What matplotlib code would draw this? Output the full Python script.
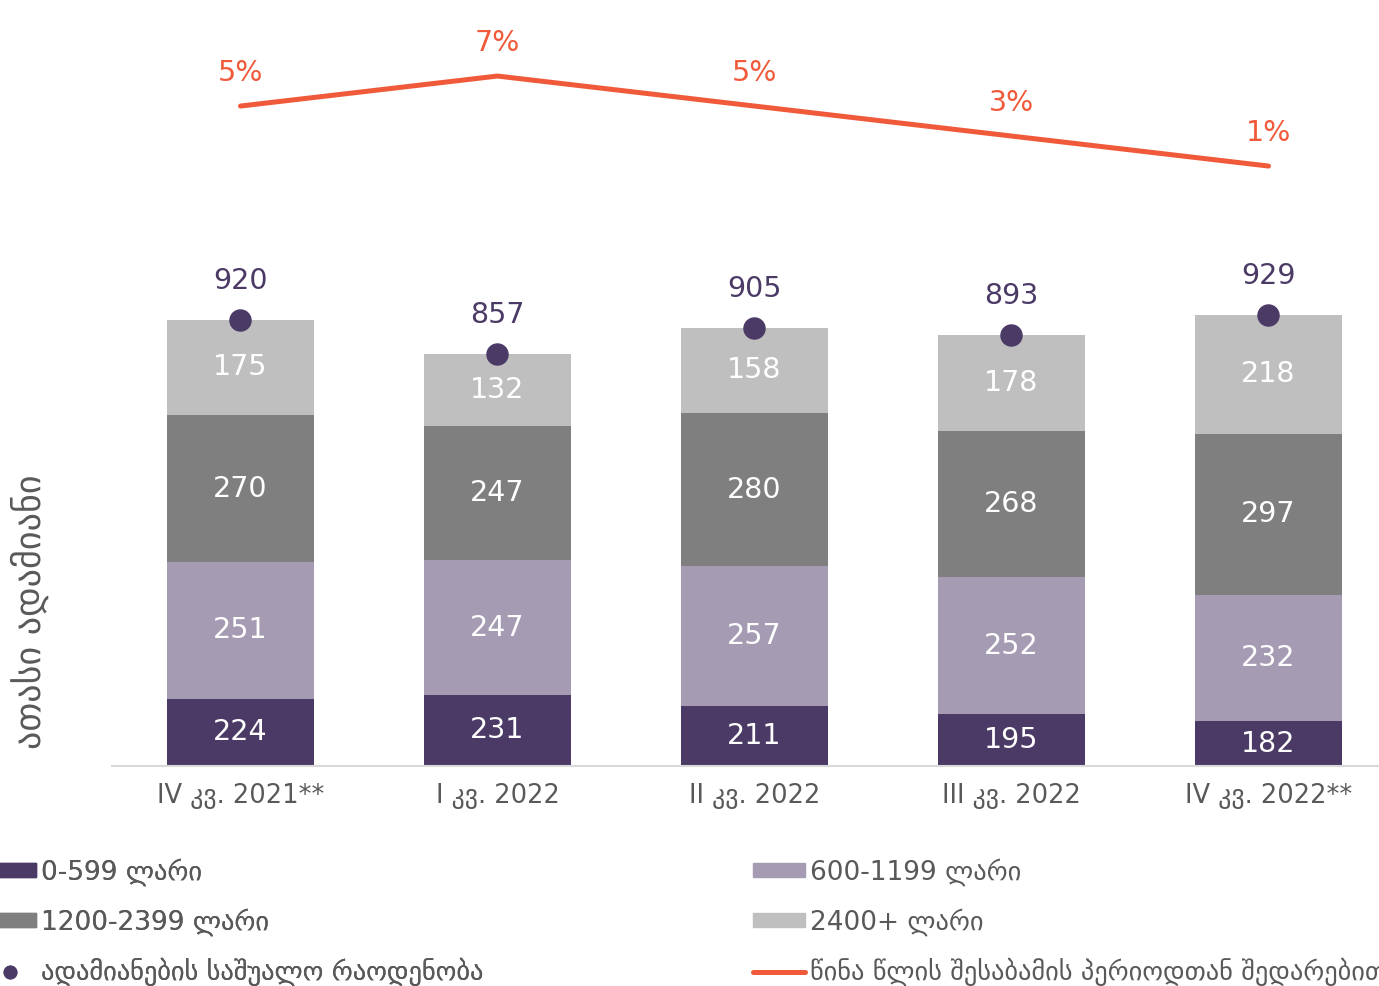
import numpy as np
import matplotlib
matplotlib.use('Agg')
import matplotlib.pyplot as plt
import matplotlib.patches as mpatches
from matplotlib.lines import Line2D

# data
quarters = ['IV კვ. 2021**', 'I კვ. 2022', 'II კვ. 2022', 'III კვ. 2022', 'IV კვ. 2022**']
band_0_599 = [224, 231, 211, 195, 182]
band_600_1199 = [251, 247, 257, 252, 232]
band_1200_2399 = [270, 247, 280, 268, 297]
band_2400 = [175, 132, 158, 178, 218]
totals = [920, 857, 905, 893, 929]
yoy_pct = [5, 7, 5, 3, 1]

band_labels = ['0-599 ლარი', '600-1199 ლარი', '1200-2399 ლარი', '2400+ ლარი']
dot_label = 'ადამიანების საშუალო რაოდენობა'
line_label = 'წინა წლის შესაბამის პერიოდთან შედარებით'

colors = ['#4B3A66', '#A59BB3', '#7F7F7F', '#BFBFBF']
dot_color = '#4B3A66'
line_color = '#F05A3A'
text_grey = '#595959'

y_min = 100  # value axis does not start at zero

W, H = 1379, 986
fig = plt.figure(figsize=(W / 100, H / 100), dpi=100)
ax = fig.add_axes([112 / W, (H - 766) / H, 1 - 112 / W, 766 / H])

x = np.arange(len(quarters))
bands = [band_0_599, band_600_1199, band_1200_2399, band_2400]
bottom = np.zeros(len(quarters))
for vals, c in zip(bands, colors):
    ax.bar(x, vals, width=0.57, bottom=bottom, color=c)
    for xi, b, v in zip(x, bottom, vals):
        lo = max(b, y_min)
        ax.text(xi, (lo + b + v) / 2, str(v), ha='center', va='center', color='white',
                fontsize=20.5)
    bottom += np.array(vals)

ax.scatter(x, totals, s=230, color=dot_color, zorder=3)
for xi, t in zip(x, totals):
    ax.annotate(str(t), (xi, t), xytext=(0, 28), textcoords='offset points',
                ha='center', va='center', color=dot_color, fontsize=20.5)

ax.set_xlim(-0.5, 4.43)
ax.set_ylim(y_min, 1508)
ax.set_xticks(x)
ax.set_xticklabels(quarters, fontsize=18.5, color=text_grey)
ax.tick_params(axis='x', length=0, pad=12.5)
ax.set_yticks([])
for s in ['top', 'left', 'right']:
    ax.spines[s].set_visible(False)
ax.spines['bottom'].set_color('#D9D9D9')
ax.spines['bottom'].set_linewidth(1.5)

ax2 = ax.twinx()
ax2.plot(x, yoy_pct, color=line_color, lw=3.6, solid_capstyle='round')
for xi, p in zip(x, yoy_pct):
    ax2.annotate(f'{p}%', (xi, p), xytext=(0, 24), textcoords='offset points',
                 ha='center', va='center', color=line_color, fontsize=20.5)
ax2.set_ylim(-39, 12.07)
ax2.axis('off')

fig.text(30 / W, 1 - 612 / H, 'ათასი ადამიანი', rotation=90, ha='center', va='center',
         fontsize=26, color=text_grey)

h1 = [mpatches.Patch(color=colors[0], label=band_labels[0]),
      mpatches.Patch(color=colors[2], label=band_labels[2]),
      Line2D([], [], marker='o', ls='none', color=dot_color, markersize=9, label=dot_label)]
h2 = [mpatches.Patch(color=colors[1], label=band_labels[1]),
      mpatches.Patch(color=colors[3], label=band_labels[3]),
      Line2D([], [], color=line_color, lw=3.6, solid_capstyle='round', label=line_label)]

leg_kw = dict(loc='upper left', frameon=False, fontsize=19, labelcolor=text_grey,
              borderpad=0, borderaxespad=0, handlelength=1.97, handleheight=0.45,
              handletextpad=0.2, labelspacing=0.84)
leg1 = fig.legend(handles=h1, bbox_to_anchor=(-16 / W, 1 - 858 / H), **leg_kw)
fig.add_artist(leg1)
fig.legend(handles=h2, bbox_to_anchor=(753 / W, 1 - 858 / H), **leg_kw)

fig.savefig('out.png', dpi=100)
